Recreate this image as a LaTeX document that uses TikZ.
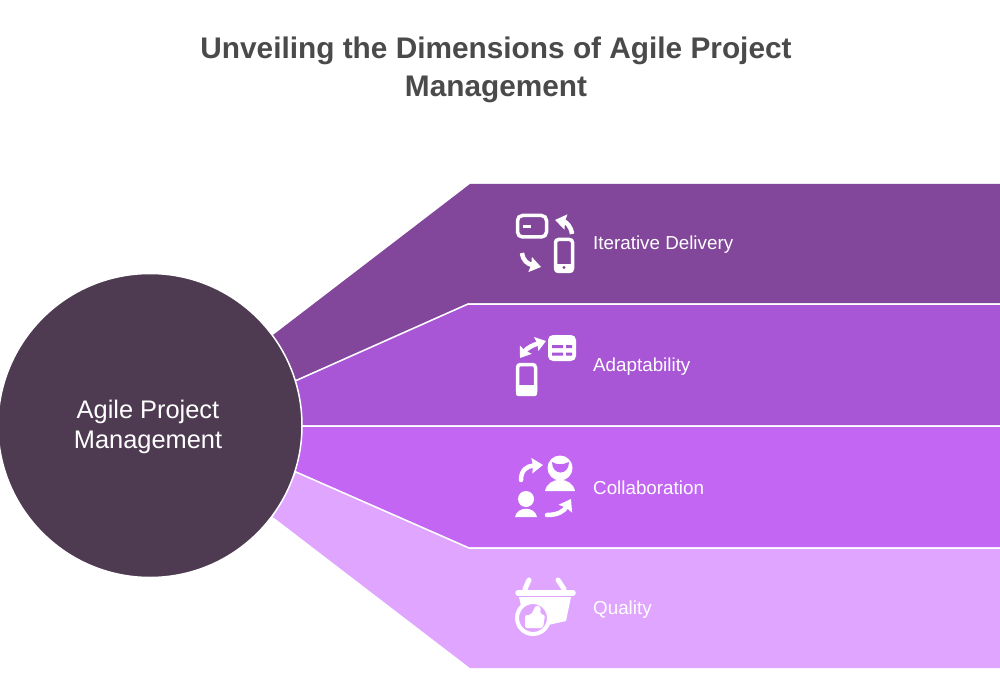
\documentclass[tikz,border=0pt]{standalone}
\usepackage{fontspec}
\setmainfont{Liberation Sans}
\usepackage{xcolor}
\usetikzlibrary{positioning,arrows.meta}
\definecolor{bandone}{HTML}{82479A}
\definecolor{bandtwo}{HTML}{A956D6}
\definecolor{bandthree}{HTML}{C266F3}
\definecolor{bandfour}{HTML}{E0A5FF}
\definecolor{hubcolor}{HTML}{4E3B52}
\definecolor{titlecolor}{HTML}{4A4A4A}
\tikzset{
    bandlabel/.style={text=white, anchor=west, inner sep=0pt, font=\fontsize{18.8}{22}\selectfont},
    iconline/.style={draw=white, line width=3.5pt, line cap=round},
    iconarrow/.style={white, line width=4.5pt, -{Stealth[length=11pt,width=15pt,inset=1pt]}}
}

\begin{document}
\begin{tikzpicture}[x=1pt,y=-1pt]
    \useasboundingbox (0,0) rectangle (1000,700);

    \node[text=titlecolor, align=center, font=\fontsize{29.8}{38}\bfseries\selectfont] (title) at (496,70) {Unveiling the Dimensions of Agile Project\\Management};

    % bands
    \fill[bandone] (273,335) -- (470,184) -- (1000,184) -- (1000,303) -- (468,303) -- (295,380) -- cycle;
    \fill[bandtwo] (295,382) -- (468,305) -- (1000,305) -- (1000,425) -- (300,425) -- cycle;
    \fill[bandthree] (300,427) -- (1000,427) -- (1000,547) -- (469,547) -- (296,471) -- cycle;
    \fill[bandfour] (296,473) -- (469,549) -- (1000,549) -- (1000,668) -- (470,668) -- (273,517) -- cycle;

    \node[circle, fill=hubcolor, draw=white, line width=1.5pt, minimum size=304pt, inner sep=0pt, text=white, align=center, font=\fontsize{25.4}{30}\selectfont] (hub) at (150,425.5) {};
    \node[text=white, align=center, font=\fontsize{25.4}{30}\selectfont] (hublabel) at (148,427) {Agile Project\\Management};

    \node[bandlabel] (delivery) at (593,245) {Iterative Delivery};
    \node[bandlabel] (adapt) at (593,367) {Adaptability};
    \node[bandlabel] (collab) at (593,488) {Collaboration};
    \node[bandlabel] (quality) at (593,610) {Quality};

    % icon: iterative delivery
    \draw[iconline, rounded corners=5pt] (517.5,215.5) rectangle (546.5,237);
    \draw[white, line width=3pt] (523,227) -- (531,227);
    \draw[iconarrow] (572,234) .. controls (571,226) and (566,222) .. (555,220);
    \draw[iconarrow] (522,253) .. controls (523,261) and (528,264) .. (541,267);
    \draw[iconline, rounded corners=3pt] (555.5,239.5) rectangle (572.5,271.5);
    \fill[white] (555,264) rectangle (573,271);
    \fill[bandone] (564,267.5) circle (1.7);

    % icon: adaptability
    \fill[white, rounded corners=5pt] (548,335) rectangle (576,361);
    \fill[bandtwo] (552,345) rectangle (563,348) (566,345) rectangle (572,348)
        (552,352.5) rectangle (563,355.5) (566,352.5) rectangle (572,355.5);
    \draw[iconline, rounded corners=3pt] (517.5,364.5) rectangle (535.5,394);
    \fill[white, rounded corners=2pt] (516,385) rectangle (537,396);
    \draw[white, line width=4.5pt, {Stealth[length=10pt,width=14pt,inset=1pt]}-{Stealth[length=10pt,width=14pt,inset=1pt]}] (520,358) .. controls (527,348) and (533,345) .. (546,341);

    % icon: collaboration
    \draw[iconarrow, line cap=round] (521,480) .. controls (521,470) and (527,466) .. (543,465);
    \fill[white] (560,468) circle (12.5);
    \fill[bandthree] (552,462) .. controls (557,465) and (563,465) .. (569,462) .. controls (569,476) and (552,476) .. (552,462) -- cycle;
    \fill[white] (545,491) .. controls (548,476) and (572,476) .. (575,491) -- cycle;
    \fill[white] (526,499) circle (8);
    \fill[white] (515,517) .. controls (517,506) and (535,506) .. (537,517) -- cycle;
    \draw[iconarrow, line cap=round] (547,515) .. controls (558,515) and (564,511) .. (571,499);

    % icon: quality
    \draw[iconline, line width=5.5pt] (518,593) -- (573,593);
    \draw[iconline, line width=5pt] (529,580) -- (525,589) (558,580) -- (564,589);
    \fill[white] (519,597) -- (571,597) -- (566,621) -- (548,625) -- (522,610) -- cycle;
    \draw[draw=white, fill=bandfour, line width=4pt] (533,618) circle (16);
    \fill[white, rounded corners=2pt] (525,615) -- (531,615) -- (536,605) -- (541,607) -- (540,614) -- (545,615) -- (543,628) -- (525,628) -- cycle;
\end{tikzpicture}
\end{document}
